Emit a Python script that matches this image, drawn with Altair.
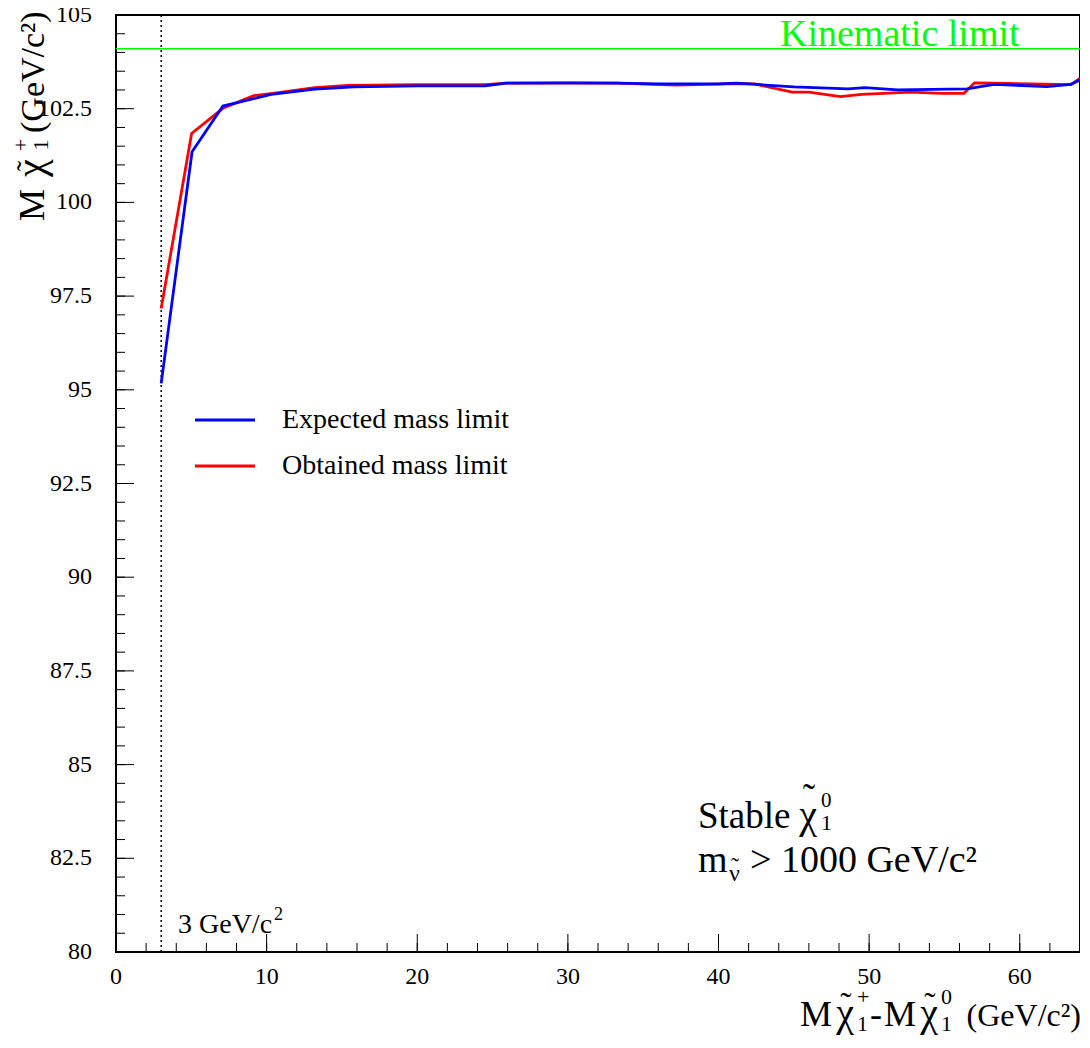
import altair as alt
import numpy as np
import pandas as pd

# ---------------- data ----------------
SERIES = ["Expected mass limit", "Obtained mass limit"]
COLORS = ["#0000ff", "#ff0000"]

exp_x = [3.0, 5.05, 7.1, 10.3, 13.2, 15.8, 20.0, 24.5, 25.9, 30.0, 33.3, 36.0,
         40.0, 41.2, 42.8, 45.0, 48.6, 49.7, 51.9, 56.5, 58.3, 61.8, 63.4, 64.0]
exp_y = [95.17, 101.35, 102.57, 102.88, 103.02, 103.08, 103.11, 103.11, 103.18,
         103.19, 103.18, 103.16, 103.16, 103.18, 103.14, 103.08, 103.03, 103.06,
         103.0, 103.03, 103.15, 103.09, 103.15, 103.27]

obs_x = [3.0, 5.02, 7.1, 9.14, 10.4, 13.2, 15.4, 20.0, 24.5, 25.9, 30.0, 33.3,
         37.2, 41.2, 42.4, 44.9, 46.0, 48.1, 49.5, 52.8, 54.8, 56.3, 57.0, 58.3,
         63.4, 64.0]
obs_y = [97.17, 101.84, 102.51, 102.85, 102.91, 103.06, 103.12, 103.14, 103.14,
         103.18, 103.18, 103.18, 103.13, 103.17, 103.16, 102.94, 102.94, 102.82,
         102.88, 102.94, 102.91, 102.91, 103.19, 103.18, 103.14, 103.31]

KINEMATIC = [104.1]
CUT_X = [3.0]

X_LABELS = [0, 10, 20, 30, 40, 50, 60]
X_LABEL_TEXT = ["0", "10", "20", "30", "40", "50", "60"]
Y_LABELS = [80, 82.5, 85, 87.5, 90, 92.5, 95, 97.5, 100, 102.5, 105]
Y_LABEL_TEXT = ["80", "82.5", "85", "87.5", "90", "92.5", "95", "97.5", "100", "102.5", "105"]
X_MINOR = [float(v) for v in np.arange(0, 64.01, 2)]
Y_MINOR = [float(v) for v in np.arange(80, 105.01, 0.5)]

# ---------------- layout ----------------
PAD_L, PAD_T, PAD_R, PAD_B = 108, 7, 0, 83
W, H = 964, 937
OX, OY = 8 + PAD_L, 8 + PAD_T        # page position of the plot origin
FONT = "Liberation Serif"
XDOM = [0, 64]
YDOM = [80, 105]
TILDE = "\u02dc"
CHI = "\u03c7"
NU = "\u03bd"


def X(field):
    return alt.X(f"{field}:Q", scale=alt.Scale(domain=XDOM, nice=False, zero=False), axis=None)


def Y(field):
    return alt.Y(f"{field}:Q", scale=alt.Scale(domain=YDOM, nice=False, zero=False), axis=None)


legend = alt.Legend(title=None, orient="none", legendX=95, legendY=391,
                    symbolType="M-5,0H5", symbolSize=144, symbolStrokeWidth=2.8,
                    labelFont=FONT, labelFontSize=28, labelColor="black",
                    labelOffset=43, rowPadding=18, labelLimit=600, padding=0)
color = alt.Color("series:N", scale=alt.Scale(domain=SERIES, range=COLORS), legend=legend)

df_exp = pd.DataFrame({"x": exp_x, "y": exp_y, "series": SERIES[0]})
df_obs = pd.DataFrame({"x": obs_x, "y": obs_y, "series": SERIES[1]})

# inward ticks (ROOT style)
y_minor = alt.Chart(pd.DataFrame({"v": Y_MINOR})).mark_rule(color="black", strokeWidth=1).encode(
    y=Y("v"), x=alt.value(0), x2=alt.value(9))
y_major = alt.Chart(pd.DataFrame({"v": Y_LABELS})).mark_rule(color="black", strokeWidth=1).encode(
    y=Y("v"), x=alt.value(0), x2=alt.value(18))
x_minor = alt.Chart(pd.DataFrame({"v": X_MINOR})).mark_rule(color="black", strokeWidth=1).encode(
    x=X("v"), y=alt.value(H), y2=alt.value(H - 9))
x_major = alt.Chart(pd.DataFrame({"v": X_LABELS})).mark_rule(color="black", strokeWidth=1).encode(
    x=X("v"), y=alt.value(H), y2=alt.value(H - 18))

# tick labels
x_lab = alt.Chart(pd.DataFrame({"v": X_LABELS, "lab": X_LABEL_TEXT})).mark_text(
    font=FONT, fontSize=24, color="black", baseline="top", align="center").encode(
    x=X("v"), y=alt.value(H + 13), text="lab:N")
y_lab = alt.Chart(pd.DataFrame({"v": Y_LABELS, "lab": Y_LABEL_TEXT})).mark_text(
    font=FONT, fontSize=24, color="black", baseline="middle", align="right").encode(
    y=Y("v"), x=alt.value(92 - OX), text="lab:N")

kin = alt.Chart(pd.DataFrame({"v": KINEMATIC})).mark_rule(color="#00ff00", strokeWidth=1.6).encode(
    y=Y("v"))
cut = alt.Chart(pd.DataFrame({"v": CUT_X})).mark_rule(
    color="black", strokeWidth=1.5, strokeDash=[2, 3]).encode(x=X("v"))

obs_line = alt.Chart(df_obs).mark_line(strokeWidth=2.8).encode(
    x=X("x"), y=Y("y"), color=color, order="x:Q")
exp_line = alt.Chart(df_exp).mark_line(strokeWidth=2.8).encode(
    x=X("x"), y=Y("y"), color=color, order="x:Q")


def T(s, page_x, page_y, size, align="left", angle=0, col="black"):
    """Text piece placed at a page position (converted to plot coordinates)."""
    return alt.Chart(pd.DataFrame({"t": [s]})).mark_text(
        align=align, baseline="alphabetic", font=FONT, fontSize=size,
        angle=angle, color=col).encode(
        x=alt.value(page_x - OX), y=alt.value(page_y - OY), text="t:N")


texts = [
    T("Kinematic limit", 780, 46, 38, col="#00ff00"),
    T("3 GeV/c", 178, 933, 28),
    T("2", 274, 920, 18),
    # Stable chi_1^0
    T("Stable", 698, 828, 37),
    T(CHI, 808, 828, 40, align="center"),
    T(TILDE, 809, 810, 37, align="center"),
    T("0", 821, 807, 21),
    T("1", 821, 830, 22),
    # m_snu > 1000 GeV/c^2
    T("m", 698, 872, 38),
    T(NU, 729, 881, 24),
    T(TILDE, 735, 874, 24, align="center"),
    T("> 1000 GeV/c\u00b2", 750, 872, 38),
    # y title (rotated, reads bottom to top)
    T("M", 44, 221, 36, angle=270),
    T(CHI, 44, 168, 40, align="center", angle=270),
    T(TILDE, 37, 166, 30, align="center", angle=270),
    T("+", 28, 145, 22, align="center", angle=270),
    T("1", 48, 145, 22, align="center", angle=270),
    T("(GeV/c\u00b2)", 44, 133, 34, angle=270),
    # x title
    T("M", 800, 1026, 36),
    T(CHI, 845, 1026, 40, align="center"),
    T(TILDE, 846, 1016, 34, align="center"),
    T("+", 857, 1004, 22),
    T("1", 857, 1031, 22),
    T("-", 870, 1026, 36),
    T("M", 884, 1026, 36),
    T(CHI, 929, 1026, 40, align="center"),
    T(TILDE, 930, 1016, 34, align="center"),
    T("0", 941, 1004, 22),
    T("1", 941, 1031, 22),
    T("(GeV/c\u00b2)", 1081, 1026, 32, align="right"),
]

chart = alt.layer(
    y_minor, y_major, x_minor, x_major, x_lab, y_lab, kin, cut, obs_line, exp_line, *texts
).properties(
    width=W, height=H,
    autosize=alt.AutoSizeParams(type="none"),
    padding={"left": PAD_L, "top": PAD_T, "right": PAD_R, "bottom": PAD_B},
    background="white",
).configure_view(stroke="black", strokeWidth=2)

chart.save("out.html", embed_options={"renderer": "svg", "actions": False})
